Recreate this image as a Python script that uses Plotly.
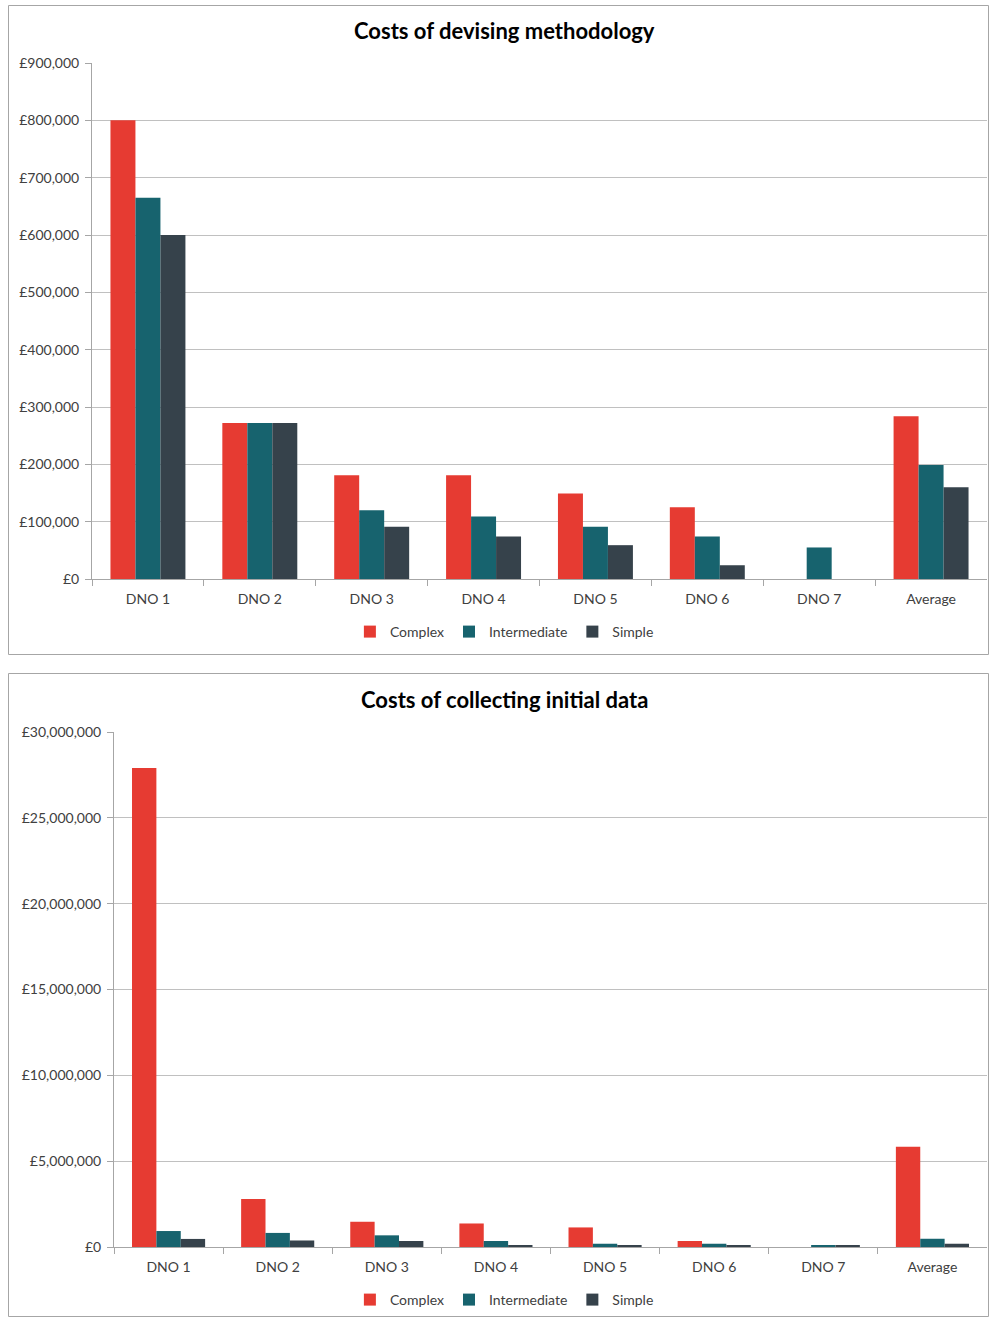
import plotly.graph_objects as go

W, H = 989, 1318

categories = ["DNO 1", "DNO 2", "DNO 3", "DNO 4", "DNO 5", "DNO 6", "DNO 7", "Average"]

# Chart 1: Costs of devising methodology (GBP)
method_complex = [800000, 272000, 181000, 181000, 149000, 125000, None, 284000]
method_intermediate = [665000, 272000, 120000, 109000, 91000, 74000, 55000, 199000]
method_simple = [600000, 272000, 91000, 74000, 59000, 24000, None, 160000]

# Chart 2: Costs of collecting initial data (GBP)
data_complex = [27900000, 2800000, 1470000, 1370000, 1140000, 350000, None, 5840000]
data_intermediate = [930000, 820000, 680000, 350000, 190000, 190000, 60000, 480000]
data_simple = [470000, 380000, 350000, 80000, 80000, 70000, 60000, 190000]

series_names = ["Complex", "Intermediate", "Simple"]
colors = ["#E63B32", "#17636E", "#36424B"]

FONT = "Lato"
TXT = "#404040"
GRID = "#C0C0C0"

def px_x(p):
    return p / W

def px_y(p):
    return 1 - p / H

fig = go.Figure()

for name, vals, col in zip(series_names, [method_complex, method_intermediate, method_simple], colors):
    fig.add_trace(go.Bar(x=categories, y=vals, name=name, marker=dict(color=col, line=dict(width=0)),
                         xaxis="x", yaxis="y", legend="legend"))
for name, vals, col in zip(series_names, [data_complex, data_intermediate, data_simple], colors):
    fig.add_trace(go.Bar(x=categories, y=vals, name=name, marker=dict(color=col, line=dict(width=0)),
                         xaxis="x2", yaxis="y2", legend="legend2"))

axis_common_x = dict(type="category", tickson="boundaries", ticks="outside", ticklen=6, tickcolor="#A6A6A6",
                     showline=True, linecolor="#A6A6A6", linewidth=1, showgrid=False, ticklabelstandoff=7,
                     tickfont=dict(family=FONT, size=14, color=TXT), fixedrange=True, automargin=False)
axis_common_y = dict(ticks="outside", ticklen=6, tickcolor="#A6A6A6", showline=True, linecolor="#A6A6A6",
                     linewidth=1, showgrid=True, gridcolor=GRID, gridwidth=1, zeroline=False, automargin=False,
                     ticklabelstandoff=3,
                     tickprefix="£", tickformat=",d", tickfont=dict(family=FONT, size=14, color=TXT))

legend_common = dict(orientation="h", x=0.51, xanchor="center", yanchor="top",
                     font=dict(family=FONT, size=14, color=TXT), itemwidth=30, tracegroupgap=0,
                     bgcolor="rgba(0,0,0,0)", borderwidth=0)

fig.update_layout(
    width=W, height=H,
    margin=dict(l=0, r=0, t=0, b=0, autoexpand=False),
    paper_bgcolor="white", plot_bgcolor="white",
    barmode="group", bargap=0.33, bargroupgap=0,
    xaxis=dict(domain=[px_x(92), px_x(987)], anchor="y", **axis_common_x),
    yaxis=dict(domain=[px_y(579), px_y(63)], anchor="x", range=[0, 900000], dtick=100000, **axis_common_y),
    xaxis2=dict(domain=[px_x(114), px_x(987)], anchor="y2", **axis_common_x),
    yaxis2=dict(domain=[px_y(1247), px_y(732)], anchor="x2", range=[0, 30000000], dtick=5000000, **axis_common_y),
    legend=dict(y=px_y(616), **legend_common),
    legend2=dict(y=px_y(1284), **legend_common),
    showlegend=True,
    annotations=[
        dict(text="<b>Costs of devising methodology</b>", x=px_x(505), y=px_y(31), xref="paper", yref="paper",
             xanchor="center", yanchor="middle", showarrow=False,
             font=dict(family=FONT, size=22, color="#000000")),
        dict(text="<b>Costs of collecting initial data</b>", x=px_x(505), y=px_y(699), xref="paper", yref="paper",
             xanchor="center", yanchor="middle", showarrow=False,
             font=dict(family=FONT, size=22, color="#000000")),
    ],
    shapes=[
        dict(type="rect", xref="paper", yref="paper", x0=px_x(8.5), x1=px_x(988.5), y0=px_y(654.5), y1=px_y(5.5),
             line=dict(color="#A6A6A6", width=1), fillcolor="rgba(0,0,0,0)", layer="below"),
        dict(type="rect", xref="paper", yref="paper", x0=px_x(8.5), x1=px_x(988.5), y0=px_y(1316.5), y1=px_y(673.5),
             line=dict(color="#A6A6A6", width=1), fillcolor="rgba(0,0,0,0)", layer="below"),
    ],
)

fig.write_html("out.html")
